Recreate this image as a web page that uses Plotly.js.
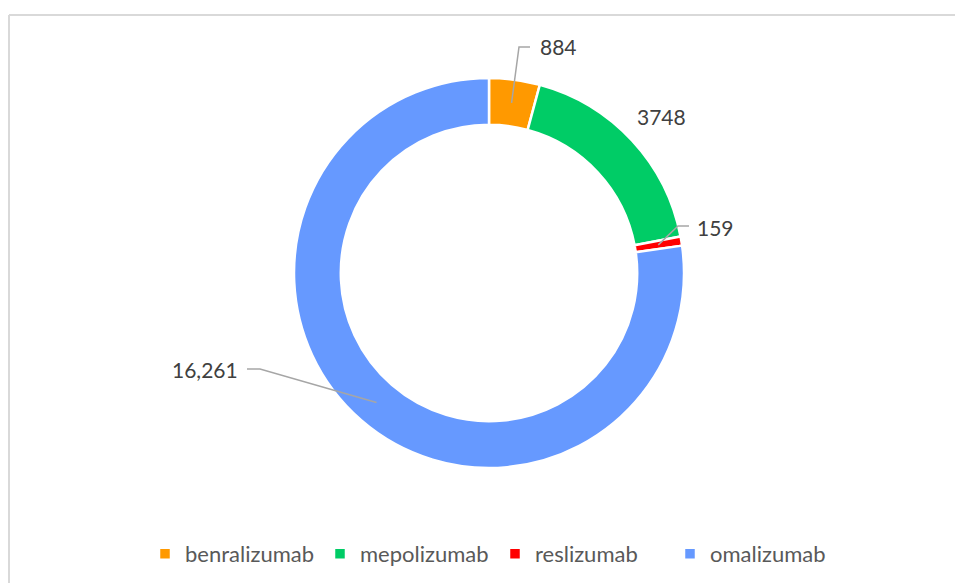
<!DOCTYPE html>
<html>
<head>
<meta charset="utf-8">
<script src="https://cdn.plot.ly/plotly-3.0.1.min.js"></script>
<style>
html,body{margin:0;padding:0;background:#fff;}
#chart{width:955px;height:583px;}
</style>
</head>
<body>
<div id="chart"></div>
<script>
// Data
const categories = ["benralizumab", "mepolizumab", "reslizumab", "omalizumab"];
const values = [884, 3748, 159, 16261];
const labelText = ["884", "3748", "159", "16,261"];
const colors = ["#FF9900", "#00CC66", "#FF0000", "#6699FF"];

// Layout geometry (pixels)
const W = 955, H = 583;
const cx = 489, cy = 273, R = 195, hole = 0.76;
const midR = R * (1 + hole) / 2;

// label placement per slice: text pos and whether a leader is drawn
const labelPos = [
  {tx: 558, ty: 47, elbow: [519, 47], end: [530, 47], leader: true},
  {tx: 661, ty: 116, leader: false},
  {tx: 715, ty: 227, elbow: [678, 226], end: [689, 226], leader: true},
  {tx: 205, ty: 369, elbow: [260, 369], end: [247, 369], leader: true}
];

const px = x => x / W;
const py = y => (H - y) / H;

const total = values.reduce((a, b) => a + b, 0);
let cum = 0;
const shapes = [];
const annotations = [];
values.forEach((v, i) => {
  const mid = (cum + v / 2) / total * 2 * Math.PI;
  cum += v;
  const ax = cx + midR * Math.sin(mid);
  const ay = cy - midR * Math.cos(mid);
  const lp = labelPos[i];
  if (lp.leader) {
    shapes.push({
      type: "path", xref: "paper", yref: "paper",
      path: `M${px(ax)},${py(ay)} L${px(lp.elbow[0])},${py(lp.elbow[1])} L${px(lp.end[0])},${py(lp.end[1])}`,
      line: {color: "#A6A6A6", width: 1.5}
    });
  }
  annotations.push({
    xref: "paper", yref: "paper", x: px(lp.tx), y: py(lp.ty),
    text: labelText[i], showarrow: false, xanchor: "center", yanchor: "middle",
    font: {family: "Lato, 'Open Sans', sans-serif", size: 21, color: "#404040"}
  });
});

// chart border (top & left visible)
shapes.push({type: "line", xref: "paper", yref: "paper", x0: px(9), x1: px(9), y0: py(15), y1: 0, line: {color: "#D9D9D9", width: 2}});
shapes.push({type: "line", xref: "paper", yref: "paper", x0: px(9), x1: 1, y0: py(15), y1: py(15), line: {color: "#D9D9D9", width: 2}});

const trace = {
  type: "pie",
  labels: categories,
  values: values,
  hole: hole,
  sort: false,
  direction: "clockwise",
  rotation: 0,
  textinfo: "none",
  marker: {colors: colors, line: {color: "#FFFFFF", width: 2.5}},
  domain: {x: [px(cx - R), px(cx + R)], y: [py(cy + R), py(cy - R)]},
  automargin: false
};

const layout = {
  width: W, height: H,
  margin: {l: 0, r: 0, t: 0, b: 0},
  paper_bgcolor: "#FFFFFF",
  showlegend: true,
  legend: {
    orientation: "h", x: px(145), xanchor: "left", y: py(554), yanchor: "middle",
    entrywidth: 130, entrywidthmode: "pixels",
    font: {family: "Lato, 'Open Sans', sans-serif", size: 22, color: "#595959"},
    traceorder: "normal"
  },
  shapes: shapes,
  annotations: annotations
};

Plotly.newPlot("chart", [trace], layout, {displayModeBar: false, staticPlot: true});
</script>
</body>
</html>
